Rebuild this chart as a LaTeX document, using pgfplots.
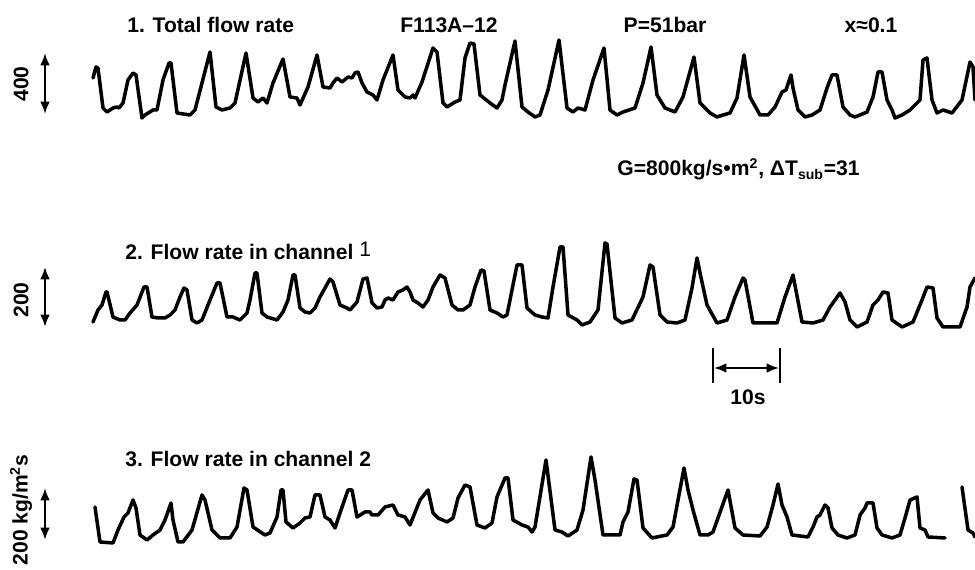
\documentclass[border=0pt]{standalone}
\usepackage{fontspec}
\setmainfont{Liberation Sans}
\usepackage{pgfplots}
\pgfplotsset{compat=1.18}
\usepackage{pgfplotstable}
\usetikzlibrary{arrows.meta}

\tikzset{
  trace/.style={black, line width=2pt, line join=round, line cap=round},
  lbl/.style={font=\fontsize{12}{14}\selectfont\bfseries, inner sep=0pt},
  span/.style={line width=1.2pt, {Latex[length=7pt,width=5.5pt]}-{Latex[length=7pt,width=5.5pt]}},
}

% Recorder traces: x = chart position, y = pen deflection (downwards positive)
\pgfplotstableread{
x y
93 78
96 67
98 68
101 92
103 108
107 112
113 108
117 107
119 108
123 103
128 80
133 73
136 75
142 118
145 115
153 110
157 110
163 80
169 63
171 63
177 113
190 115
195 110
210 52
216 107
222 110
230 108
235 103
246 53
253 98
258 102
263 98
267 103
273 83
283 59
290 97
297 98
300 105
308 87
317 55
323 87
330 88
333 83
337 78
342 82
348 77
352 78
355 73
358 72
362 83
367 92
373 95
377 100
383 80
393 55
398 90
405 97
410 98
413 95
415 98
422 82
433 48
437 52
443 103
447 107
455 102
460 100
465 58
470 43
474 44
480 95
490 103
497 108
502 100
505 85
515 41
522 107
528 112
535 117
540 115
548 90
559 40
567 108
573 112
578 108
585 110
593 80
604 48
610 110
617 115
623 112
635 108
643 83
651 47
657 95
665 108
675 112
683 97
694 57
700 103
710 113
717 117
723 115
730 113
737 98
744 55
750 97
760 115
768 115
775 107
782 92
786 90
791 75
793 88
798 110
805 117
812 115
820 110
827 88
832 75
837 75
843 107
850 115
855 117
860 115
867 112
873 97
878 72
882 72
887 100
892 110
895 118
902 115
910 110
920 100
923 60
927 58
932 100
937 113
943 110
952 113
962 100
970 62
973 67
975 100
}\totalflow

\pgfplotstableread{
x y
93 322
98 310
102 305
106 292
107 292
113 317
120 320
125 320
130 313
137 305
144 287
147 287
152 317
158 318
165 318
170 315
175 310
180 297
184 288
187 290
192 320
197 323
202 320
210 300
217 283
220 283
227 317
233 317
240 320
247 313
250 300
255 273
257 273
262 313
267 317
277 320
283 312
288 300
293 275
295 275
300 308
305 312
310 313
315 308
320 297
330 279
333 282
340 305
347 308
350 310
357 302
363 279
367 278
372 303
377 308
382 307
385 300
388 298
393 300
398 292
403 290
407 287
410 292
413 300
418 303
423 307
428 300
433 287
440 275
445 278
452 305
458 310
463 310
470 305
475 287
481 270
484 271
490 310
497 313
503 317
507 315
512 290
517 265
522 265
527 308
535 315
542 317
548 318
553 287
560 247
563 247
568 315
577 320
582 325
590 322
598 310
605 243
607 244
615 318
622 323
632 320
643 297
650 265
653 267
660 315
667 322
677 323
685 320
692 288
697 258
700 273
707 305
717 323
727 320
735 297
743 278
745 280
753 323
777 323
785 297
793 275
802 322
813 323
823 320
830 307
840 293
845 302
850 320
857 327
867 322
873 305
878 300
883 292
888 293
892 320
902 327
913 322
922 300
927 287
933 288
937 318
943 327
960 327
967 307
970 287
975 278
}\channelone

\pgfplotstableread{
x y
95 507
100 542
113 543
118 530
124 517
128 513
133 500
136 508
140 535
147 540
153 535
160 530
165 520
171 503
173 520
178 542
183 542
192 530
202 495
205 500
212 530
220 538
230 538
237 527
244 488
247 490
253 527
265 535
270 533
277 517
281 490
283 490
286 522
293 528
300 523
305 518
310 517
315 495
320 495
325 517
330 520
335 528
340 513
348 490
352 490
357 517
365 512
370 512
372 515
378 515
385 507
393 505
398 515
405 517
410 525
420 500
428 490
433 513
438 518
447 522
453 518
458 498
465 485
470 487
477 525
485 528
492 523
497 497
505 478
508 478
513 520
522 525
528 527
532 532
535 527
546 460
555 530
562 532
568 536
577 530
583 510
591 457
595 480
603 535
620 535
623 522
628 512
634 479
637 480
643 528
652 538
657 537
667 535
673 527
684 468
688 490
693 510
700 535
708 535
713 532
728 490
735 528
743 535
760 536
767 527
773 505
778 484
782 505
787 517
792 535
808 537
813 527
817 517
820 515
825 505
828 508
832 528
838 535
847 538
855 535
860 515
865 508
867 503
873 503
877 528
882 535
892 538
900 535
905 518
910 500
917 497
920 528
925 530
928 537
945 538
}\channeltwo

\pgfplotstableread{
x y
962 487
968 530
973 533
975 537
}\channeltwotail

\begin{document}
\begin{tikzpicture}
\begin{axis}[
  name=main,
  scale only axis,
  width=19.5cm, height=11.4cm,
  xmin=0, xmax=975, ymin=0, ymax=570,
  y dir=reverse,
  hide axis,
  clip=false,
]
\addplot[trace] table[x=x, y=y] {\totalflow};
\addplot[trace] table[x=x, y=y] {\channelone};
\addplot[trace] table[x=x, y=y] {\channeltwo};
\addplot[trace] table[x=x, y=y] {\channeltwotail};

% headings
\node[lbl, anchor=west] at (axis cs:127,25) {1. Total flow rate};
\node[lbl] at (axis cs:449,25) {F113A–12};
\node[lbl] at (axis cs:665,25) {P=51bar};
\node[lbl] at (axis cs:871,25) {x≈0.1};
\node[lbl, anchor=base west] at (axis cs:617,176) {G=800kg/s•m\textsuperscript{2}, ΔT\textsubscript{sub}=31};
\node[lbl, anchor=west] at (axis cs:125,251) {2. Flow rate in channel \raisebox{1.5pt}{\mdseries 1}};
\node[lbl, anchor=west] at (axis cs:125,459) {3. Flow rate in channel 2};

% amplitude scales
\node[lbl, rotate=90] at (axis cs:21,84) {400};
\draw[span] (axis cs:45,53) -- (axis cs:45,114);
\node[lbl, rotate=90] at (axis cs:21,300) {200};
\draw[span] (axis cs:45,267) -- (axis cs:45,327);
\node[lbl, rotate=90] at (axis cs:21,510) {200 kg/m\textsuperscript{2}s};
\draw[span] (axis cs:45,488) -- (axis cs:45,540);

% time scale
\draw[line width=1.2pt] (axis cs:713,348) -- (axis cs:713,383);
\draw[line width=1.2pt] (axis cs:780,348) -- (axis cs:780,383);
\draw[span] (axis cs:714,368) -- (axis cs:779,368);
\node[lbl] at (axis cs:748,397) {10s};
\end{axis}
\pgfresetboundingbox
\path (main.south west) rectangle (main.north east);
\end{tikzpicture}
\end{document}
